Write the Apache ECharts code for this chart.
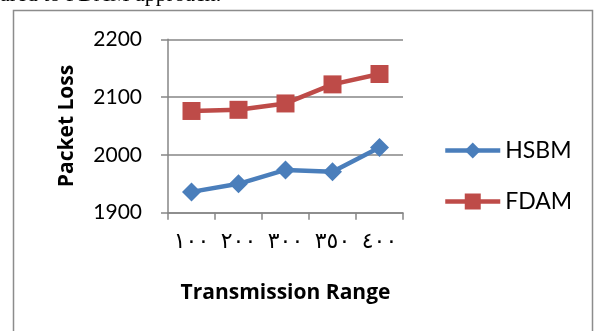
<!DOCTYPE html>
<html>
<head>
<meta charset="utf-8">
<script src="https://cdn.jsdelivr.net/npm/echarts@6/dist/echarts.min.js"></script>
<style>
  html, body { margin: 0; padding: 0; background: #fff; }
  #chart { width: 597px; height: 331px; }
</style>
</head>
<body>
<div id="chart"></div>
<script>
// Transmission range categories (Arabic-Indic numerals)
const categories = ['١٠٠', '٢٠٠', '٣٠٠', '٣٥٠', '٤٠٠'];
// Packet loss per scheme
const hsbm = [1936, 1950, 1974, 1971, 2013];
const fdam = [2076, 2078, 2089, 2122, 2140];
// Value axis range
const yMin = 1900, yMax = 2200, yStep = 100;

const chart = echarts.init(document.getElementById('chart'), null, { renderer: 'canvas' });
const baseFont = 'Lato, "Open Sans", sans-serif';
const boldFont = '"Open Sans", Lato, sans-serif';
const axisGray = '#868686';

chart.setOption({
  animation: false,
  backgroundColor: '#ffffff',
  graphic: [
    {
      type: 'text', left: 0, top: -16,
      style: { text: 'ared to FDAM approach.', font: '22px "Liberation Serif", serif', fill: '#000' }
    },
    {
      type: 'rect', shape: { x: 13.5, y: 10.5, width: 579, height: 340 },
      style: { fill: 'none', stroke: '#8c8c8c', lineWidth: 1.5 }
    }
  ],
  grid: { left: 168, right: 194, top: 39.3, bottom: 118.3, containLabel: false },
  legend: {
    orient: 'vertical',
    left: 438, top: 134,
    itemWidth: 55, itemHeight: 20, itemGap: 28,
    lineStyle: { width: 4.5 },
    textStyle: { fontFamily: baseFont, fontSize: 23, color: '#000' },
    data: ['HSBM', 'FDAM']
  },
  xAxis: {
    type: 'category',
    data: categories,
    boundaryGap: true,
    name: 'Transmission Range',
    nameLocation: 'middle',
    nameGap: 70,
    nameTextStyle: { fontFamily: boldFont, fontWeight: 'bold', fontSize: 21, color: '#000' },
    axisLine: { lineStyle: { color: axisGray, width: 1.5 } },
    axisTick: { show: true, alignWithLabel: false, length: 7, lineStyle: { color: axisGray, width: 1.5 } },
    axisLabel: { fontFamily: '"DejaVu Sans", sans-serif', fontSize: 22, color: '#000', margin: 19 },
    splitLine: { show: false }
  },
  yAxis: {
    type: 'value',
    min: yMin, max: yMax, interval: yStep,
    name: 'Packet Loss',
    nameLocation: 'middle',
    nameGap: 90,
    nameRotate: 90,
    nameTextStyle: { fontFamily: boldFont, fontWeight: 'bold', fontSize: 21, color: '#000' },
    axisLine: { show: true, lineStyle: { color: axisGray, width: 1.5 } },
    axisTick: { show: true, length: 7, lineStyle: { color: axisGray, width: 1.5 } },
    axisLabel: { fontFamily: baseFont, fontSize: 21, color: '#000', margin: 26, formatter: v => String(v) },
    splitLine: { show: true, lineStyle: { color: axisGray, width: 1.5 } }
  },
  series: [
    {
      name: 'HSBM', type: 'line', data: hsbm,
      symbol: 'diamond', symbolSize: 19,
      lineStyle: { color: '#4A7EBB', width: 4.5 },
      itemStyle: { color: '#4A7EBB' }
    },
    {
      name: 'FDAM', type: 'line', data: fdam,
      symbol: 'rect', symbolSize: 18,
      lineStyle: { color: '#BE4B48', width: 4.5 },
      itemStyle: { color: '#BE4B48' }
    }
  ]
});
</script>
</body>
</html>
